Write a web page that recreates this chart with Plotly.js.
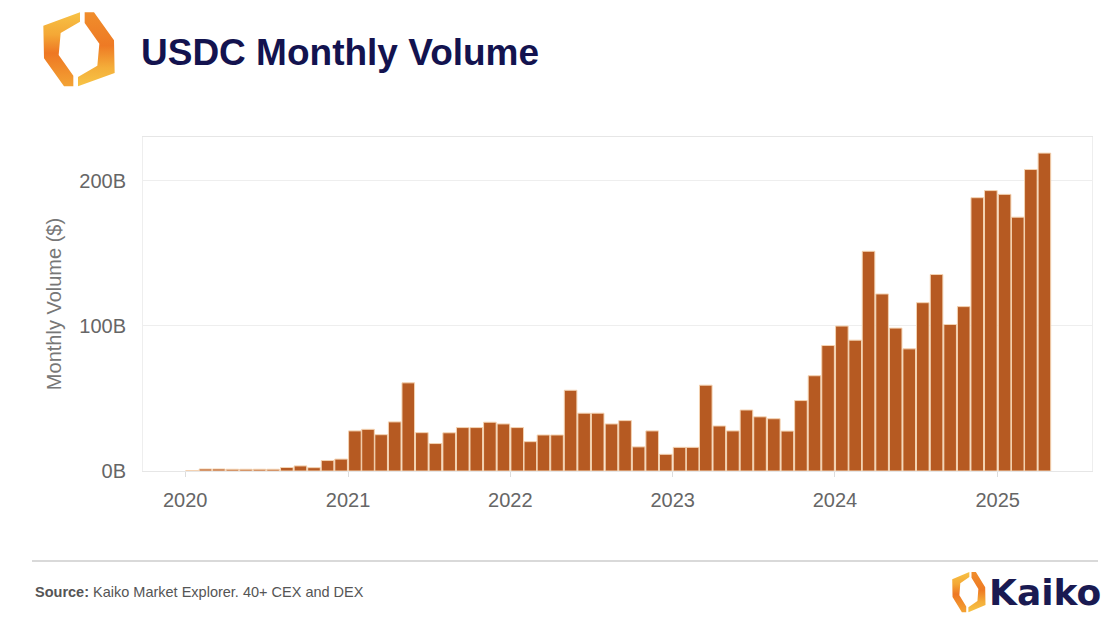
<!DOCTYPE html>
<html>
<head>
<meta charset="utf-8">
<script src="https://cdn.plot.ly/plotly-3.0.1.min.js"></script>
<style>html,body{margin:0;padding:0;background:#fff;}#chart{width:1120px;height:628px;}</style>
</head>
<body>
<div id="chart"></div>
<script>
// ---- data ----
const months = [
  "2020-01","2020-02","2020-03","2020-04","2020-05","2020-06","2020-07","2020-08","2020-09","2020-10","2020-11","2020-12",
  "2021-01","2021-02","2021-03","2021-04","2021-05","2021-06","2021-07","2021-08","2021-09","2021-10","2021-11","2021-12",
  "2022-01","2022-02","2022-03","2022-04","2022-05","2022-06","2022-07","2022-08","2022-09","2022-10","2022-11","2022-12",
  "2023-01","2023-02","2023-03","2023-04","2023-05","2023-06","2023-07","2023-08","2023-09","2023-10","2023-11","2023-12",
  "2024-01","2024-02","2024-03","2024-04","2024-05","2024-06","2024-07","2024-08","2024-09","2024-10","2024-11","2024-12",
  "2025-01","2025-02","2025-03","2025-04"
];
// monthly volume, billions of USD
const volumeB = [
  0.3, 1.4, 1.4, 1.2, 1.2, 1.2, 1.2, 2.4, 3.5, 2.3, 7.2, 8.2,
  27.6, 28.7, 25.0, 33.8, 60.7, 26.4, 18.9, 26.3, 29.9, 29.9, 33.6, 32.4,
  29.9, 20.2, 24.8, 24.8, 55.6, 39.8, 39.8, 32.4, 34.7, 16.6, 27.6, 11.5,
  16.3, 16.3, 59.1, 31.0, 27.6, 42.0, 37.3, 36.0, 27.5, 48.5, 65.6, 86.4,
  99.8, 90.1, 151.3, 121.9, 98.4, 84.1, 115.9, 135.3, 100.9, 113.2, 188.2, 193.1,
  190.5, 174.8, 207.6, 218.9
];
const yTickVals = [0, 100, 200];
const yTickText = ["0B", "100B", "200B"];

const titleText = "USDC Monthly Volume";
const yTitle = "Monthly Volume ($)";
const sourceText = "<b>Source:</b> Kaiko Market Explorer. 40+ CEX and DEX";
const brandText = "Kaiko";

// ---- layout helpers (pixel -> paper) ----
const M = {l: 143, r: 28, t: 137, b: 157};
const W = 1120, H = 628;
const PW = W - M.l - M.r, PH = H - M.t - M.b;
const px = x => (x - M.l) / PW;
const py = y => (H - M.b - y) / PH;

function logoSvg() {
  const s = '<svg xmlns="http://www.w3.org/2000/svg" viewBox="0 0 270 270">' +
    '<defs>' +
    '<linearGradient id="gl" x1="0" y1="0" x2="0" y2="1">' +
    '<stop offset="0" stop-color="#F7C245"/><stop offset="0.3" stop-color="#F4A836"/>' +
    '<stop offset="0.55" stop-color="#EE7723"/><stop offset="1" stop-color="#F3A334"/></linearGradient>' +
    '<linearGradient id="gr" x1="0" y1="0" x2="0" y2="1">' +
    '<stop offset="0" stop-color="#F08D2C"/><stop offset="0.45" stop-color="#EE7A24"/>' +
    '<stop offset="0.75" stop-color="#F4AE3A"/><stop offset="1" stop-color="#F7C446"/></linearGradient>' +
    '</defs>' +
    '<polygon fill="url(#gl)" points="150,22 150,50 92,84 86,150 130,212 130,244 102,244 42,160 40,62"/>' +
    '<polygon fill="url(#gr)" points="144,244 144,216 202,182 208,116 164,54 164,22 192,22 252,106 254,204"/>' +
    '</svg>';
  return 'data:image/svg+xml;utf8,' + encodeURIComponent(s);
}

const trace = {
  type: 'bar',
  x: months,
  y: volumeB,
  xperiod: 'M1',
  xperiodalignment: 'middle',
  marker: {color: '#B65A22', line: {color: '#F4D3B2', width: 1}},
  hoverinfo: 'x+y'
};

const axisFont = {family: 'Liberation Sans, Arial, sans-serif', size: 20, color: '#666'};

const layout = {
  width: W, height: H,
  margin: M,
  paper_bgcolor: '#ffffff',
  plot_bgcolor: '#ffffff',
  showlegend: false,
  bargap: 0.04,
  font: {family: 'Liberation Sans, Arial, sans-serif'},
  xaxis: {
    type: 'date',
    range: ['2019-09-28', '2025-08-01'],
    dtick: 'M12',
    tick0: '2020-01-01',
    tickformat: '%Y',
    tickfont: axisFont,
    ticks: 'outside', ticklen: 5, tickcolor: '#dddddd',
    ticklabelstandoff: 6,
    showgrid: false,
    showline: true, linecolor: '#e6e6e6', linewidth: 1, mirror: true,
    zeroline: false,
    automargin: false
  },
  yaxis: {
    range: [0, 230],
    tickvals: yTickVals,
    ticktext: yTickText,
    tickfont: axisFont,
    ticks: '',
    ticklabelstandoff: 12,
    showgrid: true, gridcolor: '#eeeeee', gridwidth: 1,
    showline: true, linecolor: '#eeeeee', linewidth: 1, mirror: true,
    zeroline: false,
    automargin: false,
    title: {text: yTitle, font: {family: 'Liberation Sans, Arial, sans-serif', size: 20, color: '#777'}, standoff: 12}
  },
  shapes: [
    {type: 'line', xref: 'paper', yref: 'paper', x0: px(32), x1: px(1098), y0: py(561), y1: py(561),
     line: {color: '#cccccc', width: 1.5}}
  ],
  images: [
    {source: logoSvg(), xref: 'paper', yref: 'paper', x: px(30), y: py(5), sizex: 90 / PW, sizey: 90 / PH,
     xanchor: 'left', yanchor: 'top', sizing: 'stretch', layer: 'above'},
    {source: logoSvg(), xref: 'paper', yref: 'paper', x: px(946), y: py(568), sizex: 42 / PW, sizey: 49 / PH,
     xanchor: 'left', yanchor: 'top', sizing: 'stretch', layer: 'above'}
  ],
  annotations: [
    {text: '<b>' + titleText + '</b>', xref: 'paper', yref: 'paper', x: px(139), y: py(52),
     xanchor: 'left', yanchor: 'middle', showarrow: false,
     font: {family: 'Liberation Sans, Arial, sans-serif', size: 37, color: '#13134F'}},
    {text: sourceText, xref: 'paper', yref: 'paper', x: px(33), y: py(592),
     xanchor: 'left', yanchor: 'middle', showarrow: false,
     font: {family: 'Liberation Sans, Arial, sans-serif', size: 14.5, color: '#555'}},
    {text: '<b>' + brandText + '</b>', xref: 'paper', yref: 'paper', x: px(987), y: py(592),
     xanchor: 'left', yanchor: 'middle', showarrow: false,
     font: {family: 'DejaVu Sans, sans-serif', size: 36, color: '#1A1A52'}}
  ]
};

Plotly.newPlot('chart', [trace], layout, {displayModeBar: false, staticPlot: true});
</script>
</body>
</html>
